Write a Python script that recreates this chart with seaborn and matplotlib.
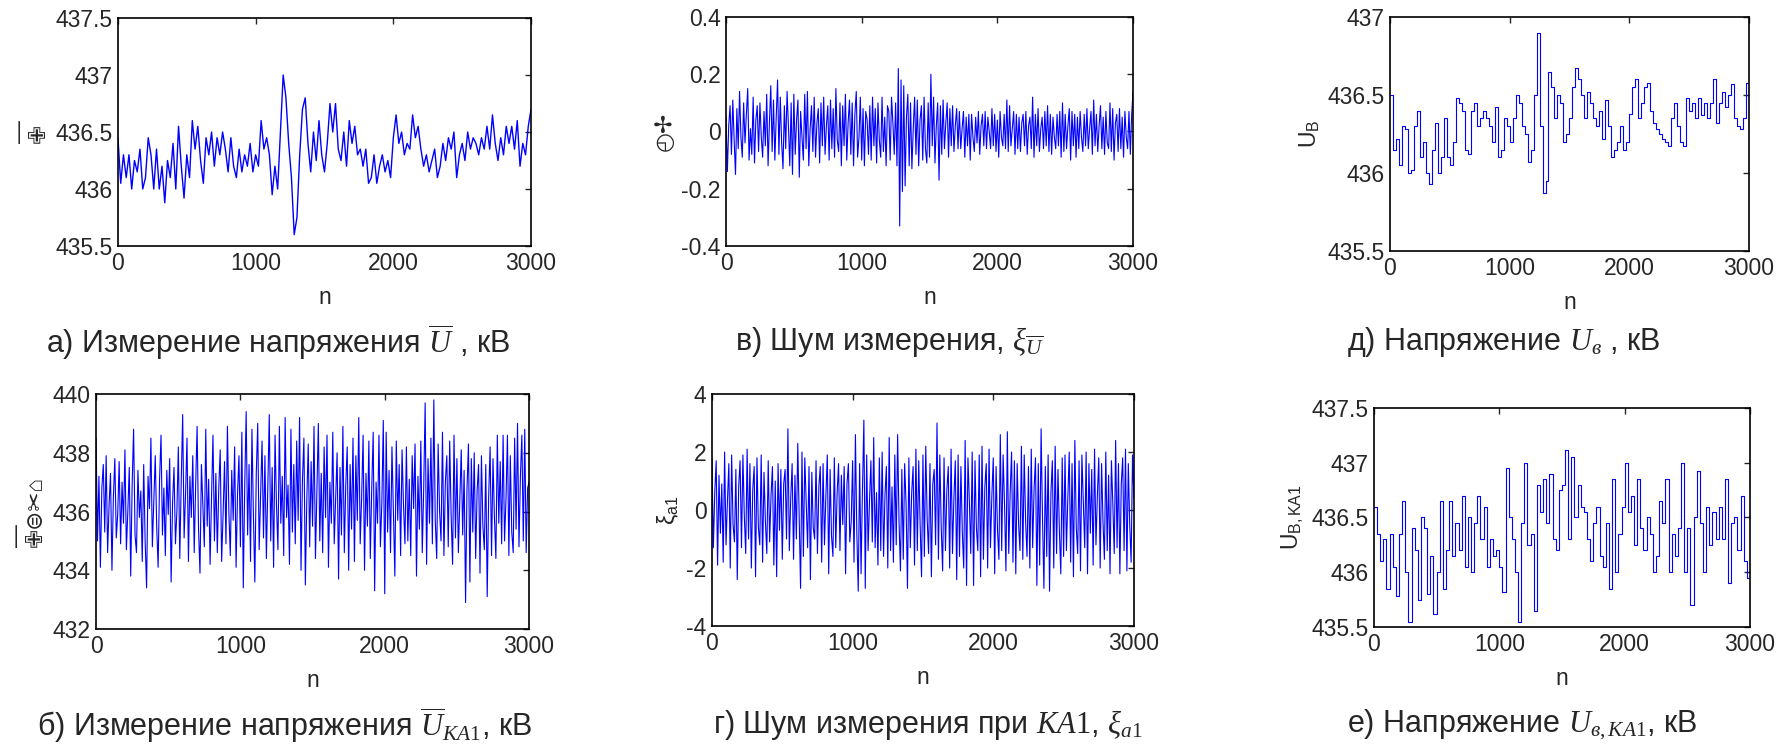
import numpy as np
import pandas as pd
import seaborn as sns
import matplotlib
matplotlib.use("Agg")
import matplotlib.pyplot as plt
from matplotlib.ticker import FuncFormatter

# ---- data (n = 0 .. 3000) ----
# a) measured voltage U-bar, kV
u_meas = [
    436.45, 436.05, 436.3, 436.1, 436.3, 436.0, 436.25, 436.15, 436.35, 436.0,
    436.1, 436.45, 436.3, 436.0, 436.35, 436.0, 436.2, 435.88, 436.25, 436.1,
    436.4, 436.0, 436.55, 436.2, 435.92, 436.3, 436.1, 436.6, 436.35, 436.55,
    436.25, 436.05, 436.45, 436.3, 436.5, 436.2, 436.45, 436.3, 436.5, 436.35,
    436.15, 436.45, 436.2, 436.1, 436.35, 436.15, 436.3, 436.2, 436.4, 436.15,
    436.3, 436.2, 436.6, 436.35, 436.45, 436.3, 435.95, 436.2, 436.0, 436.5,
    437.0, 436.8, 436.4, 436.1, 435.6, 435.75, 436.3, 436.7, 436.8, 436.4,
    436.15, 436.5, 436.25, 436.6, 436.3, 436.15, 436.4, 436.75, 436.5, 436.75,
    436.35, 436.25, 436.5, 436.2, 436.6, 436.4, 436.55, 436.3, 436.35, 436.2,
    436.35, 436.05, 436.1, 436.3, 436.05, 436.2, 436.3, 436.15, 436.25, 436.1,
    436.45, 436.65, 436.4, 436.5, 436.3, 436.4, 436.35, 436.65, 436.45, 436.55,
    436.35, 436.2, 436.3, 436.15, 436.25, 436.35, 436.1, 436.2, 436.4, 436.25,
    436.45, 436.35, 436.5, 436.1, 436.3, 436.4, 436.25, 436.5, 436.35, 436.45,
    436.4, 436.3, 436.45, 436.35, 436.55, 436.35, 436.65, 436.4, 436.25, 436.45,
    436.3, 436.55, 436.4, 436.55, 436.35, 436.6, 436.2, 436.4, 436.3, 436.55,
    436.7,
]

# в) measurement noise xi_U
xi_u = [
    0.05, -0.14, 0.02, 0.09, -0.08, 0.11, -0.03, -0.15, 0.08, -0.06,
    0.14, -0.02, -0.09, 0.10, -0.04, 0.06, 0.15, -0.10, 0.01, -0.08,
    0.12, -0.11, 0.04, 0.09, -0.07, 0.10, -0.02, -0.09, 0.07, -0.05,
    0.13, -0.12, 0.03, 0.16, -0.07, 0.11, -0.10, 0.05, 0.18, -0.08,
    0.12, -0.04, -0.13, 0.09, -0.06, 0.14, 0.02, -0.12, 0.10, -0.15,
    0.13, -0.08, 0.04, 0.11, -0.16, 0.07, -0.02, -0.10, 0.13, -0.06,
    0.14, -0.12, 0.01, 0.09, -0.07, 0.12, -0.09, 0.03, 0.08, -0.11,
    0.10, -0.05, 0.12, -0.08, 0.02, 0.09, -0.10, 0.11, -0.06, 0.08,
    -0.09, 0.15, -0.03, -0.07, 0.10, -0.12, 0.09, -0.05, 0.13, -0.10,
    0.03, 0.11, -0.08, 0.10, -0.12, 0.06, 0.14, -0.09, -0.02, 0.12,
    -0.10, 0.08, -0.12, 0.07, 0.04, -0.08, 0.09, -0.10, 0.12, -0.05,
    0.08, -0.11, 0.10, -0.03, -0.09, 0.12, -0.07, 0.05, -0.12, 0.09,
    0.07, -0.10, 0.12, 0.03, -0.08, 0.10, -0.12, 0.22, -0.33, 0.18,
    -0.21, 0.16, -0.19, 0.05, 0.13, -0.12, 0.10, -0.13, 0.01, 0.12,
    -0.08, 0.11, -0.12, 0.04, 0.09, -0.10, 0.12, -0.06, -0.11, 0.10,
    -0.09, 0.20, -0.05, 0.12, -0.11, 0.02, 0.10, -0.17, 0.09, -0.08,
    0.11, -0.06, 0.03, 0.10, -0.09, 0.08, -0.05, 0.09, -0.07, 0.02,
    0.08, -0.06, 0.07, -0.06, 0.01, 0.07, -0.09, 0.05, -0.05, 0.06,
    -0.10, 0.06, -0.02, -0.07, 0.05, -0.04, 0.07, -0.08, 0.02, 0.06,
    -0.05, 0.07, -0.06, 0.05, 0.00, -0.06, 0.08, -0.05, 0.06, -0.07,
    0.04, -0.09, 0.07, -0.02, -0.05, 0.06, -0.06, 0.11, -0.07, 0.09,
    -0.05, 0.01, 0.07, -0.08, 0.06, -0.06, 0.05, -0.07, 0.03, 0.06,
    -0.05, 0.07, -0.08, 0.02, 0.05, -0.06, 0.12, -0.09, 0.06, -0.05,
    0.08, -0.07, 0.01, 0.05, -0.06, 0.07, -0.05, 0.09, -0.07, 0.06,
    -0.08, 0.05, -0.02, -0.06, 0.06, -0.05, 0.07, -0.09, 0.10, -0.07,
    0.06, -0.06, 0.02, 0.08, -0.10, 0.07, -0.05, 0.06, -0.09, 0.05,
    -0.06, 0.07, -0.02, -0.07, 0.06, -0.05, 0.08, -0.06, 0.01, 0.07,
    -0.08, 0.11, -0.05, 0.06, -0.07, 0.02, 0.09, -0.06, 0.05, -0.08,
    0.07, -0.04, -0.06, 0.10, -0.07, 0.08, -0.10, 0.03, 0.06, -0.07,
    0.08, -0.06, 0.05, -0.09, 0.07, -0.02, -0.06, 0.07, -0.08, 0.06,
    0.14,
]

# д) voltage U_в, kV (sampled every 25 points)
u_true = [
    436.5, 436.15, 436.22, 436.05, 436.3, 436.28, 436.0, 436.02, 436.3, 436.4,
    436.1, 436.2, 436.0, 435.93, 436.15, 436.32, 436.0, 436.1, 436.35, 436.1,
    436.05, 436.2, 436.48, 436.45, 436.4, 436.15, 436.12, 436.4, 436.45, 436.3,
    436.35, 436.4, 436.35, 436.3, 436.2, 436.42, 436.1, 436.15, 436.35, 436.3,
    436.2, 436.35, 436.5, 436.45, 436.3, 436.25, 436.07, 436.15, 436.5, 436.9,
    436.3, 435.87, 435.95, 436.65, 436.55, 436.35, 436.5, 436.45, 436.2, 436.25,
    436.35, 436.55, 436.67, 436.6, 436.5, 436.35, 436.52, 436.45, 436.35, 436.3,
    436.4, 436.22, 436.47, 436.3, 436.1, 436.15, 436.2, 436.3, 436.15, 436.2,
    436.38, 436.55, 436.6, 436.35, 436.45, 436.55, 436.58, 436.4, 436.32, 436.28,
    436.25, 436.22, 436.2, 436.17, 436.35, 436.45, 436.3, 436.2, 436.17, 436.48,
    436.4, 436.45, 436.35, 436.48, 436.37, 436.45, 436.35, 436.45, 436.6, 436.32,
    436.45, 436.52, 436.42, 436.5, 436.57, 436.35, 436.3, 436.28, 436.35, 436.58,
    436.52,
]

# б) measured voltage at KA1, kV
u_meas_ka1 = [
    438.5, 435.0, 437.2, 434.1, 436.8, 437.6, 435.3, 437.9, 434.6, 436.2,
    437.3, 434.0, 436.5, 437.8, 435.1, 435.9, 437.7, 434.9, 437.0, 435.6,
    438.1, 434.7, 436.0, 437.5, 433.8, 436.9, 438.8, 435.2, 434.6, 437.4,
    435.8, 436.7, 434.3, 437.6, 435.0, 433.4, 437.2, 436.1, 438.5, 434.8,
    436.4, 437.9, 435.5, 434.1, 437.1, 438.6, 435.2, 436.8, 434.5, 437.4,
    435.9, 437.8, 433.6, 436.3, 437.5, 434.9, 436.0, 438.2, 434.4, 437.0,
    439.3, 435.1, 436.6, 438.5, 434.3, 437.2, 435.8, 437.9, 434.6, 436.9,
    438.9, 435.4, 433.9, 437.6, 436.2, 434.8, 438.8, 435.5, 437.1, 434.2,
    436.5, 438.6, 435.0, 437.3, 434.6, 436.8, 438.1, 434.3, 435.9, 437.7,
    434.9, 438.9, 436.0, 434.5, 437.4, 435.7, 438.2, 434.1, 436.6, 437.9,
    434.8, 438.7, 433.4, 436.9, 439.4, 435.2, 437.6, 434.3, 438.8, 435.9,
    433.6, 437.3, 439.0, 434.7, 436.5, 438.4, 435.1, 437.9, 434.4, 436.8,
    439.3, 435.0, 437.5, 434.1, 438.6, 436.2, 434.7, 438.9, 435.6, 437.2,
    434.5, 439.2, 435.8, 436.9, 434.2, 438.8, 435.3, 437.6, 434.9, 438.4,
    435.7, 439.2, 434.0, 437.1, 438.5, 433.5, 436.4, 438.3, 434.8, 437.7,
    435.5, 438.9, 434.4, 436.7, 439.0, 435.0, 437.3, 434.6, 438.2, 435.8,
    438.6, 434.1, 437.0, 435.6, 438.7, 434.9, 436.4, 438.0, 433.7, 437.5,
    435.2, 438.9, 434.6, 436.9, 438.2, 434.0, 437.6, 435.4, 438.5, 434.3,
    437.9, 435.7, 439.2, 434.9, 436.5, 438.6, 434.0, 437.3, 435.5, 438.4,
    434.4, 436.8, 438.7, 433.3, 437.0, 435.6, 438.6, 434.8, 436.3, 439.1,
    433.2, 438.7, 435.3, 437.4, 434.6, 438.2, 436.0, 433.8, 438.4, 435.7,
    437.6, 434.5, 438.1, 436.2, 434.9, 438.2, 435.0, 437.1, 434.5, 437.9,
    436.1, 438.3, 433.8, 437.2, 435.4, 438.4, 434.6, 436.8, 439.7, 434.2,
    437.8, 435.6, 438.5, 434.9, 439.8, 435.7, 434.4, 438.3, 436.0, 435.0,
    438.7, 434.5, 437.0, 437.9, 434.8, 438.4, 435.9, 434.2, 438.6, 435.1,
    437.8, 434.6, 436.4, 438.1, 435.2, 437.4, 432.9, 436.8, 438.3, 433.6,
    437.8, 435.3, 438.0, 434.4, 436.7, 437.6, 433.9, 437.9, 435.5, 434.7,
    437.6, 433.1, 436.5, 438.2, 434.5, 437.8, 435.8, 434.4, 438.6, 435.6,
    437.7, 434.9, 438.6, 435.0, 436.4, 438.6, 434.5, 437.9, 435.3, 434.6,
    438.5, 435.4, 439.0, 434.8, 437.2, 438.6, 435.0, 438.8, 434.6, 436.8,
    437.0,
]

# г) measurement noise at KA1, xi_a1
xi_a1 = [
    1.8, -1.3, 0.6, 1.7, -1.9, 1.2, -0.8, 0.9, -1.8, 2.0,
    -1.2, 0.3, 1.6, -2.0, 1.9, -0.5, -1.1, 1.4, -2.4, 0.8,
    1.7, -1.3, 1.9, -0.2, -1.5, 2.1, -1.0, 1.6, -2.0, 0.7,
    1.5, -2.3, 1.8, -0.6, -1.2, 1.9, -1.8, 1.3, -0.4, -1.5,
    1.7, -1.1, 0.5, 1.5, -1.9, 1.0, -2.3, 1.6, -0.7, 1.4,
    -1.7, 0.9, 1.4, -1.0, 2.8, -1.4, 0.4, 1.6, -1.7, 1.2,
    -1.0, 2.3, -0.3, -2.7, 2.0, -1.6, 1.8, 0.2, -1.3, 1.5,
    -2.4, 1.3, -0.6, -1.0, 1.7, -1.5, 0.8, 1.5, -1.8, 1.6,
    -1.2, 0.5, 1.9, -2.2, 1.4, -0.9, -1.6, 1.8, -1.3, 0.6,
    1.6, -1.4, 1.2, -0.5, 1.5, -2.2, 0.9, 1.6, -1.1, -0.4,
    1.7, -1.8, 2.6, -0.8, -2.8, 1.6, -2.2, 0.7, 3.1, -2.7,
    1.9, -1.4, 0.3, 1.7, -1.1, 2.5, -1.3, 0.6, -1.9, 1.8,
    -1.4, 2.0, -1.6, 0.5, 1.5, -2.0, 2.5, -1.4, 0.8, -1.8,
    1.9, -1.2, 2.6, -0.4, -2.1, 1.4, -1.7, 1.6, 0.2, -2.7,
    1.8, -1.3, 0.6, 1.5, -1.9, 2.1, -1.4, 1.7, -0.5, -2.3,
    1.9, -1.6, 2.2, -0.3, -1.5, 1.6, -2.3, 0.9, 1.4, -1.2,
    3.0, -1.7, 1.9, -0.6, -2.1, 1.8, -1.4, 0.7, 1.5, -2.0,
    2.1, -1.5, 0.4, 1.7, -2.4, 1.9, -1.6, 1.5, -0.8, -2.0,
    2.4, -2.6, 1.8, 0.3, -1.5, 2.0, -2.6, 1.7, -0.6, -1.4,
    1.9, -2.3, 2.2, -1.7, 0.8, 1.6, -2.0, 2.1, -1.3, 0.5,
    1.8, -2.2, 1.5, -0.7, -1.7, 2.6, -1.4, 1.9, 0.2, -2.1,
    2.7, -1.5, 0.6, 2.0, -1.8, 1.7, -2.2, 1.6, -0.5, -1.4,
    2.2, -1.7, 1.9, -0.4, -1.6, 1.5, -2.0, 2.1, -1.3, 0.7,
    1.8, -2.6, 1.6, -1.9, 2.8, -0.3, -2.7, 1.5, -1.6, 1.9,
    -2.8, 0.6, 1.7, -2.0, 2.2, -1.5, 1.4, -0.7, -2.2, 1.8,
    -1.6, 1.9, -1.4, 0.4, 2.0, -1.8, 1.6, -2.3, 2.4, -0.6,
    -1.5, 1.7, -2.1, 1.9, 0.3, -1.3, 2.0, -2.2, 1.6, -0.8,
    1.4, -1.9, 2.1, -1.2, 0.5, 1.8, -2.0, 1.6, -0.4, -1.7,
    2.0, -1.4, 1.2, -2.2, 1.7, 0.2, -1.5, 2.4, -1.3, 1.6,
    -2.2, 0.9, 1.8, -1.4, 2.1, -2.1, 1.6, -0.5, -1.8, 1.9,
    0.4,
]

# е) voltage U_в at KA1, kV (sampled every 25 points)
u_true_ka1 = [
    436.6, 436.35, 436.1, 436.3, 435.85, 436.35, 436.05, 435.78, 436.35, 436.65,
    436.0, 435.55, 436.4, 436.2, 435.75, 436.5, 436.4, 435.8, 436.15, 435.62,
    436.0, 436.65, 435.85, 436.2, 436.65, 436.15, 436.45, 436.2, 436.7, 436.05,
    436.5, 436.0, 436.45, 436.7, 436.3, 436.6, 436.05, 436.3, 436.15, 436.2,
    436.05, 435.82, 436.95, 436.5, 436.3, 436.0, 435.55, 436.45, 437.0, 436.25,
    436.35, 435.65, 436.8, 436.55, 436.85, 436.45, 436.9, 436.3, 436.2, 436.75,
    436.8, 437.12, 436.3, 437.05, 436.5, 436.8, 436.6, 436.55, 436.3, 436.1,
    436.45, 436.6, 436.15, 436.05, 436.45, 435.85, 436.85, 436.0, 436.35, 436.6,
    437.0, 436.55, 436.7, 436.25, 436.85, 436.4, 436.2, 436.5, 436.35, 436.0,
    436.15, 436.65, 436.45, 436.85, 436.0, 436.35, 436.15, 436.4, 437.0, 436.0,
    436.4, 435.7, 436.5, 436.92, 436.45, 436.0, 436.6, 436.25, 436.55, 436.3,
    436.6, 436.3, 436.85, 435.9, 436.45, 436.5, 436.2, 436.7, 436.1, 435.95,
    436.6,
]

x_ticks = [0, 1000, 2000, 3000]

sns.set_style("white")
plt.rcParams["font.family"] = ["Liberation Sans", "DejaVu Sans"]
plt.rcParams["mathtext.fontset"] = "custom"
plt.rcParams["mathtext.it"] = "Liberation Serif:italic"
plt.rcParams["mathtext.rm"] = "Liberation Serif"
plt.rcParams["mathtext.sf"] = "Liberation Sans"

fig = plt.figure(figsize=(17.79, 7.45), dpi=100)

blue = "#0000ff"
fs = 16.5


def panel(rect, values, ylim, yticks, ylabel, steps=False, lw=0.9, ylabel_kw=None):
    ax = fig.add_axes(rect)
    df = pd.DataFrame({"n": np.linspace(0, 3000, len(values)), "v": values})
    kw = {"drawstyle": "steps-post"} if steps else {}
    sns.lineplot(data=df, x="n", y="v", ax=ax, color=blue, linewidth=lw,
                 estimator=None, **kw)
    ax.set_xlim(0, 3000)
    ax.set_ylim(*ylim)
    ax.set_xticks(x_ticks)
    ax.set_yticks(yticks)
    ax.yaxis.set_major_formatter(FuncFormatter(lambda v, p: "%g" % round(v, 6)))
    ax.tick_params(direction="in", top=True, right=True, length=4, width=1,
                   labelsize=fs, pad=4)
    for s in ax.spines.values():
        s.set_linewidth(1.2)
        s.set_color("black")
    ax.set_xlabel("n", fontsize=fs, labelpad=8)
    ax.set_ylabel(ylabel, fontsize=fs, **(ylabel_kw or {}))
    return ax


garbled = dict(multialignment="left", linespacing=0.75)

panel([0.0663, 0.6698, 0.2322, 0.3060], u_meas, (435.5, 437.5),
      [435.5, 436, 436.5, 437, 437.5], "\u2014\n\u2719", lw=1.0,
      ylabel_kw=garbled)
panel([0.4081, 0.6698, 0.2288, 0.3074], xi_u, (-0.4, 0.4),
      [-0.4, -0.2, 0, 0.2, 0.4], "\u25F4\u2722", lw=0.8)
panel([0.7813, 0.6631, 0.2018, 0.3141], u_true, (435.5, 437),
      [435.5, 436, 436.5, 437], r"$\mathregular{U_{В}}$", steps=True, lw=0.8)
panel([0.0540, 0.1557, 0.2434, 0.3154], u_meas_ka1, (432, 440),
      [432, 434, 436, 438, 440], "\u2014\n\u2719\u229C\u2702\u2302",
      lw=0.8, ylabel_kw=garbled)
panel([0.4002, 0.1597, 0.2372, 0.3114], xi_a1, (-4, 4),
      [-4, -2, 0, 2, 4], r"$\mathregular{ξ_{a1}}$", lw=0.8)
panel([0.7723, 0.1584, 0.2114, 0.2940], u_true_ka1, (435.5, 437.5),
      [435.5, 436, 436.5, 437, 437.5], r"$\mathregular{U_{В,KA1}}$",
      steps=True, lw=0.8)

# captions under the panels
cap = dict(fontsize=22, va="center", ha="left")
fig.text(0.026, 0.541, r"а) Измерение напряжения $\overline{U}$ , кВ", **cap)
fig.text(0.413, 0.541, r"в) Шум измерения, $\xi_{\overline{U}}$", **cap)
fig.text(0.757, 0.541, r"д) Напряжение $U_{в}$ , кВ", **cap)
fig.text(0.021, 0.027, r"б) Измерение напряжения $\overline{U}_{KA1}$, кВ", **cap)
fig.text(0.401, 0.027, r"г) Шум измерения при $KA1$, $\xi_{a1}$", **cap)
fig.text(0.757, 0.027, r"е) Напряжение $U_{в,KA1}$, кВ", **cap)

fig.savefig("out.png", dpi=100)
